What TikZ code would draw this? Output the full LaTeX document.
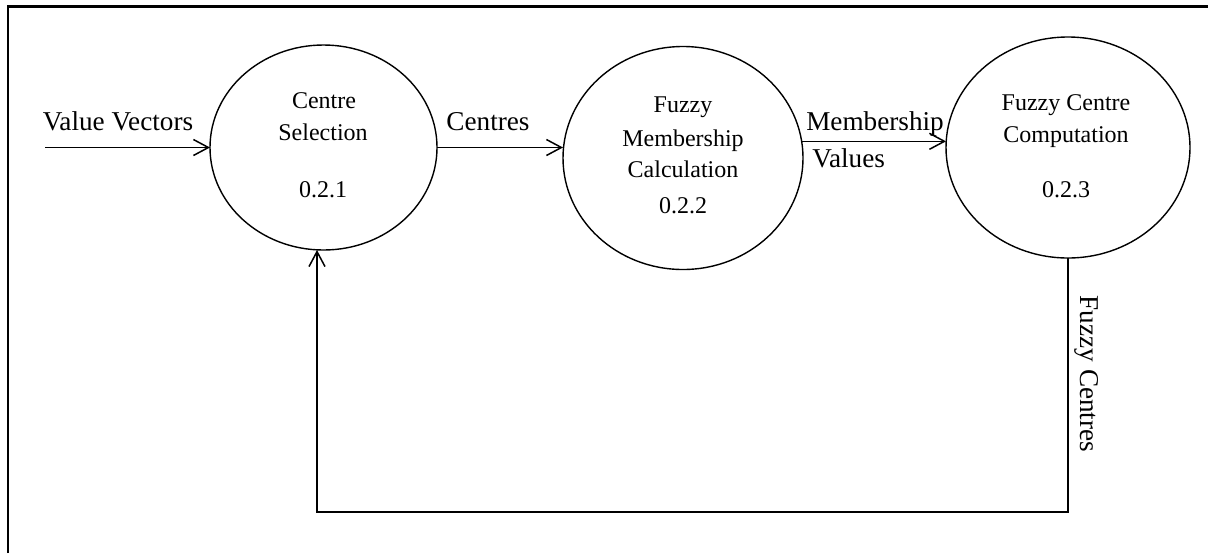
\documentclass[tikz,border=0pt]{standalone}
\usepackage{fontspec}
\setmainfont{Liberation Serif}
\usetikzlibrary{shapes.geometric,arrows.meta}

\tikzset{
  process/.style={ellipse, draw, line width=0.7pt, inner sep=0pt, outer sep=0pt},
  proctext/.style={anchor=base, inner sep=0pt, font=\fontsize{12}{14}\selectfont},
  flowlabel/.style={anchor=base, inner sep=0pt, font=\fontsize{13.6}{16}\selectfont},
  flow/.style={line width=0.75pt, -{Straight Barb[length=7.5pt,width=8pt,line width=0.75pt]}},
  frameline/.style={line width=1.1pt}
}

\begin{document}
\begin{tikzpicture}[x=0.5pt, y=-0.5pt]
  \useasboundingbox (0,0) rectangle (1208,553);

  % page frame (top and left edges)
  \draw[frameline] (8,553) -- (8,6.5) -- (1208,6.5);

  % processes
  \node[process, minimum width=113.5pt, minimum height=102.5pt] (c1) at (323.5,147.5) {};
  \node[process, minimum width=120pt, minimum height=111.5pt] (c2) at (683,158) {};
  \node[process, minimum width=122pt, minimum height=110.5pt] (c3) at (1068,147.5) {};

  % process texts
  \node[proctext] (c1a) at (324,108) {Centre};
  \node[proctext] (c1b) at (323,140) {Selection};
  \node[proctext] (c1n) at (323,197) {0.2.1};

  \node[proctext] (c2a) at (683,112) {Fuzzy};
  \node[proctext] (c2b) at (683,146) {Membership};
  \node[proctext] (c2c) at (683,177) {Calculation};
  \node[proctext] (c2n) at (683,213) {0.2.2};

  \node[proctext] (c3a) at (1066,110) {Fuzzy Centre};
  \node[proctext] (c3b) at (1066,142) {Computation};
  \node[proctext] (c3n) at (1066,197) {0.2.3};

  % data flows
  \coordinate (vin) at (45,147.5);
  \draw[flow] (vin) -- (c1.west);
  \draw[flow] (c1.east) -- (c1.east -| c2.west);
  \draw[flow] (c2.8) -- (c2.8 -| c3.west);

  \coordinate (loopL) at (317,512);
  \draw[flow] (c3.south) |- (loopL) -- (loopL |- c1.south);

  % flow labels
  \node[flowlabel] (lv) at (118,130) {Value Vectors};
  \node[flowlabel] (lc) at (488,130) {Centres};
  \node[flowlabel] (lm) at (875,130) {Membership};
  \node[flowlabel, anchor=base west] (lmv) at (812,167) {Values};
  \node[flowlabel, rotate=-90] (lf) at (1080,374) {Fuzzy Centres};
\end{tikzpicture}
\end{document}
